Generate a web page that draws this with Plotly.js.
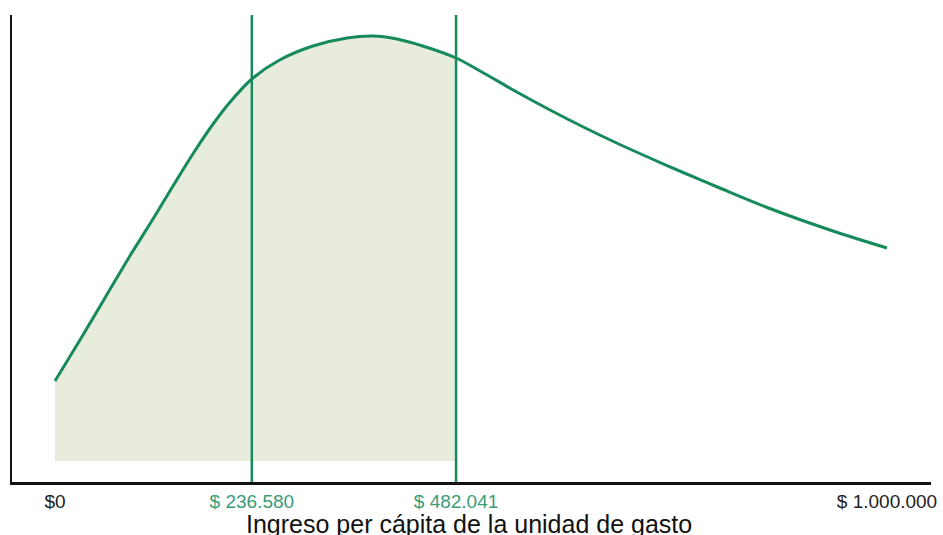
<!DOCTYPE html>
<html>
<head>
<meta charset="utf-8">
<script src="https://cdn.plot.ly/plotly-3.0.1.min.js"></script>
<style>
  html, body { margin: 0; padding: 0; background: #fff; }
  #graph { width: 943px; height: 535px; }
</style>
</head>
<body>
<div id="graph"></div>
<script>
// ingreso per capita (pesos) and relative density
var ingreso = [0, 30000, 60000, 90000, 120000, 144000, 168000, 190000, 210000, 236580,
    270000, 310000, 351000, 382000, 411000, 442000, 482041, 511000, 555000, 595000,
    635000, 675000, 715000, 755000, 799000, 856000, 935000, 1000000];
var densidad = [0.80, 1.21, 1.63, 2.05, 2.45, 2.78, 3.10, 3.37, 3.585, 3.82,
    4.01, 4.15, 4.23, 4.25, 4.22, 4.15, 4.03, 3.90, 3.69, 3.51,
    3.34, 3.18, 3.03, 2.885, 2.73, 2.535, 2.30, 2.13];

// marked income values
var cortes = [236580, 482041];

var tick_vals = [0, 236580, 482041, 1000000];
var tick_text = ['$0', '$ 236.580', '$ 482.041', '$ 1.000.000'];
var x_title = 'Ingreso per cápita de la unidad de gasto';

var verde = '#178a5c';
var verde_texto = '#3a9c78';

function plot() {
    var graphDocument = document.getElementById('graph');
    var limite = cortes[cortes.length - 1];

    var fill_x = ingreso.filter(v => v <= limite);
    var fill_y = densidad.slice(0, fill_x.length);

    var area_trace = {
        x: fill_x,
        y: fill_y,
        type: 'scatter',
        mode: 'lines',
        fill: 'tozeroy',
        fillcolor: '#e8ecdd',
        line: {width: 0, shape: 'spline', smoothing: 0.9},
        hoverinfo: 'skip',
    };

    var curve_trace = {
        x: ingreso,
        y: densidad,
        type: 'scatter',
        mode: 'lines',
        line: {color: verde, width: 3, shape: 'spline', smoothing: 0.9},
    };

    var labels = tick_text.map(function (t, i) {
        if (cortes.indexOf(tick_vals[i]) >= 0) {
            return '<span style="color:' + verde_texto + '">' + t + '</span>';
        }
        return t;
    });

    var shapes = cortes.map(c => ({
        type: 'line',
        xref: 'x',
        yref: 'paper',
        x0: c, x1: c,
        y0: 0, y1: 1,
        line: {color: verde, width: 2.5},
    }));

    var layout = {
        width: 943,
        height: 535,
        margin: {l: 12, r: 12, t: 15, b: 53},
        paper_bgcolor: '#fff',
        plot_bgcolor: '#fff',
        showlegend: false,
        font: {family: 'Liberation Sans, Arial, sans-serif', color: '#1a1a1a'},
        xaxis: {
            range: [-51683, 1052885],
            tickvals: tick_vals,
            ticktext: labels,
            tickfont: {size: 19, color: '#222'},
            ticks: '',
            ticklabelstandoff: 1,
            showgrid: false,
            zeroline: false,
            showline: true,
            linecolor: '#111',
            linewidth: 2.5,
        },
        yaxis: {
            range: [-0.21, 4.46],
            showticklabels: false,
            ticks: '',
            showgrid: false,
            zeroline: false,
            showline: true,
            linecolor: '#111',
            linewidth: 2.5,
        },
        // axis title placed as annotation so it can sit lower than plotly allows
        annotations: [{
            text: x_title,
            xref: 'paper', yref: 'paper',
            x: 0.497, y: -0.123,
            xanchor: 'center', yanchor: 'bottom',
            showarrow: false,
            borderpad: 0,
            font: {size: 25, color: '#111'},
        }],
        shapes: shapes,
    };

    Plotly.newPlot(graphDocument, [area_trace, curve_trace], layout, {displayModeBar: false, staticPlot: true});
}

plot();
</script>
</body>
</html>
